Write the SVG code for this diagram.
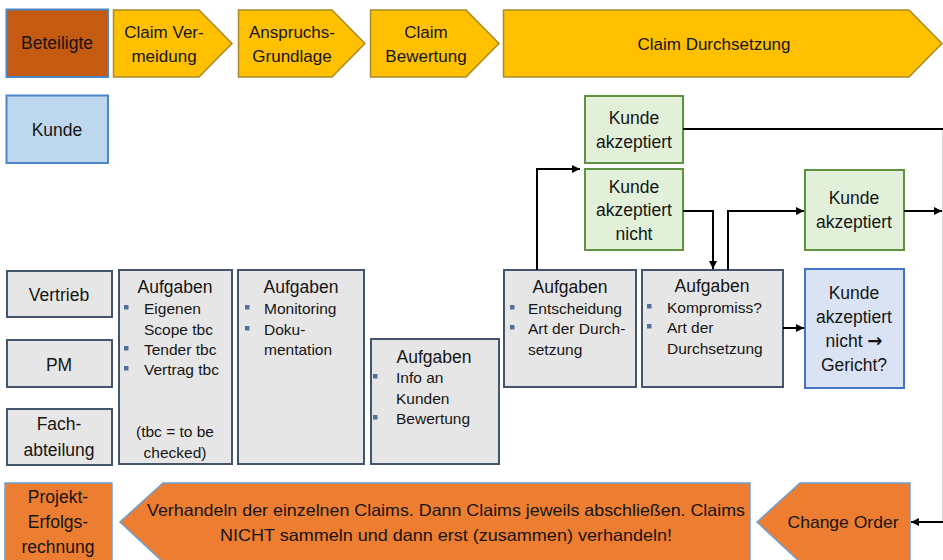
<svg xmlns="http://www.w3.org/2000/svg" width="943" height="560" viewBox="0 0 943 560">
<defs>
<style>
text{font-family:"Liberation Sans",Arial,sans-serif;fill:#151515;}
.t{font-size:17.5px;text-anchor:middle;}
.h{font-size:17px;text-anchor:middle;}
.b{font-size:15.5px;}
.chev{fill:#FFC000;stroke:#A88A2A;stroke-width:1.5;}
.or{fill:#ED7D31;stroke:#6E9FD2;stroke-width:1.5;}
.gray{fill:#E7E6E6;stroke:#44546A;stroke-width:2;}
.green{fill:#E2F0D9;stroke:#5F9342;stroke-width:2;}
.blue{fill:#BDD7EE;stroke:#4A86C8;stroke-width:2;}
.lblue{fill:#DAE3F3;stroke:#4472C4;stroke-width:2;}
.bul{fill:#51709A;}
.con{fill:none;stroke:#000;stroke-width:2;}
</style>
<marker id="ah" viewBox="0 0 10 10" refX="10" refY="5" markerWidth="9" markerHeight="8" markerUnits="userSpaceOnUse" orient="auto">
<path d="M0,0 L10,5 L0,10 Z" fill="#000"/>
</marker>
</defs>
<rect width="943" height="560" fill="#fff"/>

<!-- header -->
<g id="beteiligte">
<rect x="6.5" y="9.5" width="101.5" height="67.5" fill="#C55A11" stroke="#4A86C8" stroke-width="2"/>
<text class="t" x="57" y="49">Beteiligte</text>
</g>
<g id="claim-vermeidung">
<path class="chev" d="M113.5,10 H199 L232,43.5 L199,77 H113.5 Z"/>
<text class="h" x="164" y="38">Claim Ver-</text>
<text class="h" x="164" y="62">meidung</text>
</g>
<g id="anspruchs-grundlage">
<path class="chev" d="M238.5,10 H332 L365,43.5 L332,77 H238.5 Z"/>
<text class="h" x="292" y="38">Anspruchs-</text>
<text class="h" x="292" y="62">Grundlage</text>
</g>
<g id="claim-bewertung">
<path class="chev" d="M370.5,10 H466 L499,43.5 L466,77 H370.5 Z"/>
<text class="h" x="426" y="38">Claim</text>
<text class="h" x="426" y="62">Bewertung</text>
</g>
<g id="claim-durchsetzung">
<path class="chev" d="M503.5,10 H909 L942,43.5 L909,77 H503.5 Z"/>
<text class="h" x="714" y="50">Claim Durchsetzung</text>
</g>

<!-- left column -->
<g id="kunde">
<rect class="blue" x="6.5" y="95.5" width="101.5" height="67.5"/>
<text class="t" x="57" y="136">Kunde</text>
</g>
<g id="vertrieb">
<rect class="gray" x="7" y="271" width="105" height="46"/>
<text class="t" x="59" y="301">Vertrieb</text>
</g>
<g id="pm">
<rect class="gray" x="7" y="340" width="105" height="47"/>
<text class="t" x="59" y="371">PM</text>
</g>
<g id="fachabteilung">
<rect class="gray" x="7" y="409" width="105" height="56"/>
<text class="t" x="59" y="430">Fach-</text>
<text class="t" x="59" y="456">abteilung</text>
</g>

<!-- Aufgaben boxes -->
<g id="aufgaben-1">
<rect class="gray" x="119" y="270" width="113" height="194"/>
<text class="t" x="175" y="293">Aufgaben</text>
<rect class="bul" x="124" y="305" width="4.5" height="4.5"/>
<text class="b" x="144" y="314">Eigenen</text>
<text class="b" x="144" y="335">Scope tbc</text>
<rect class="bul" x="124" y="346" width="4.5" height="4.5"/>
<text class="b" x="144" y="355">Tender tbc</text>
<rect class="bul" x="124" y="366" width="4.5" height="4.5"/>
<text class="b" x="144" y="375">Vertrag tbc</text>
<text class="b" x="175" y="437" text-anchor="middle">(tbc = to be</text>
<text class="b" x="175" y="458" text-anchor="middle">checked)</text>
</g>
<g id="aufgaben-2">
<rect class="gray" x="238" y="270" width="126" height="194"/>
<text class="t" x="301" y="293">Aufgaben</text>
<rect class="bul" x="245" y="305" width="4.5" height="4.5"/>
<text class="b" x="264" y="314">Monitoring</text>
<rect class="bul" x="245" y="326" width="4.5" height="4.5"/>
<text class="b" x="264" y="335">Doku-</text>
<text class="b" x="264" y="355">mentation</text>
</g>
<g id="aufgaben-3">
<rect class="gray" x="371" y="339" width="128" height="125"/>
<text class="t" x="434" y="363">Aufgaben</text>
<rect class="bul" x="373" y="374" width="4.5" height="4.5"/>
<text class="b" x="396" y="383">Info an</text>
<text class="b" x="396" y="404">Kunden</text>
<rect class="bul" x="373" y="415" width="4.5" height="4.5"/>
<text class="b" x="396" y="424">Bewertung</text>
</g>
<g id="aufgaben-4">
<rect class="gray" x="504" y="270" width="132" height="117"/>
<text class="t" x="570" y="293">Aufgaben</text>
<rect class="bul" x="510" y="305" width="4.5" height="4.5"/>
<text class="b" x="528" y="314">Entscheidung</text>
<rect class="bul" x="510" y="325" width="4.5" height="4.5"/>
<text class="b" x="528" y="334">Art der Durch-</text>
<text class="b" x="528" y="355">setzung</text>
</g>
<g id="aufgaben-5">
<rect class="gray" x="642" y="270" width="141" height="117"/>
<text class="t" x="712" y="292">Aufgaben</text>
<rect class="bul" x="647" y="304" width="4.5" height="4.5"/>
<text class="b" x="667" y="313">Kompromiss?</text>
<rect class="bul" x="647" y="324" width="4.5" height="4.5"/>
<text class="b" x="667" y="333">Art der</text>
<text class="b" x="667" y="354">Durchsetzung</text>
</g>

<!-- customer reactions -->
<g id="kunde-akzeptiert-1">
<rect class="green" x="585" y="96" width="98" height="67"/>
<text class="t" x="634" y="124">Kunde</text>
<text class="t" x="634" y="148">akzeptiert</text>
</g>
<g id="kunde-akzeptiert-nicht">
<rect class="green" x="585" y="169" width="98" height="81"/>
<text class="t" x="634" y="193">Kunde</text>
<text class="t" x="634" y="216">akzeptiert</text>
<text class="t" x="634" y="240">nicht</text>
</g>
<g id="kunde-akzeptiert-2">
<rect class="green" x="805" y="170" width="99" height="80"/>
<text class="t" x="854" y="204">Kunde</text>
<text class="t" x="854" y="228">akzeptiert</text>
</g>
<g id="kunde-gericht">
<rect class="lblue" x="805" y="269" width="99" height="119"/>
<text class="t" x="854" y="299">Kunde</text>
<text class="t" x="854" y="323">akzeptiert</text>
<text class="t" x="854" y="347">nicht <tspan font-family="'DejaVu Sans',sans-serif" font-weight="bold" font-size="18">→</tspan></text>
<text class="t" x="854" y="371">Gericht?</text>
</g>

<!-- bottom row -->
<g id="projekt-erfolgsrechnung">
<rect class="or" x="5" y="483" width="107" height="80"/>
<text class="t" x="58" y="503">Projekt-</text>
<text class="t" x="58" y="528">Erfolgs-</text>
<text class="t" x="58" y="553">rechnung</text>
</g>
<g id="verhandeln">
<path class="or" d="M163,483 H750 V562 H163 L120,522 Z"/>
<text x="446" y="516" font-size="16.5" text-anchor="middle" textLength="598" lengthAdjust="spacingAndGlyphs">Verhandeln der einzelnen Claims. Dann Claims jeweils abschließen. Claims</text>
<text x="446" y="541" font-size="16.5" text-anchor="middle" textLength="452" lengthAdjust="spacingAndGlyphs">NICHT sammeln und dann erst (zusammen) verhandeln!</text>
</g>
<g id="change-order">
<path class="or" d="M800,483 H910 V562 H800 L757,522 Z"/>
<text x="843" y="528" font-size="17" text-anchor="middle" textLength="111" lengthAdjust="spacingAndGlyphs">Change Order</text>
</g>

<!-- connectors -->
<g id="connectors">
<line x1="942.5" y1="129" x2="942.5" y2="522" stroke="#d8d8d8" stroke-width="1"/>
<path class="con" d="M683,129 H943"/>
<path class="con" d="M537,270 V169 H580" marker-end="url(#ah)"/>
<path class="con" d="M683,211 H713 V269" marker-end="url(#ah)"/>
<path class="con" d="M728,270 V211 H804" marker-end="url(#ah)"/>
<path class="con" d="M904,211 H942" marker-end="url(#ah)"/>
<path class="con" d="M783,328 H804" marker-end="url(#ah)"/>
<path class="con" d="M943,522 H911" marker-end="url(#ah)"/>
</g>
</svg>
